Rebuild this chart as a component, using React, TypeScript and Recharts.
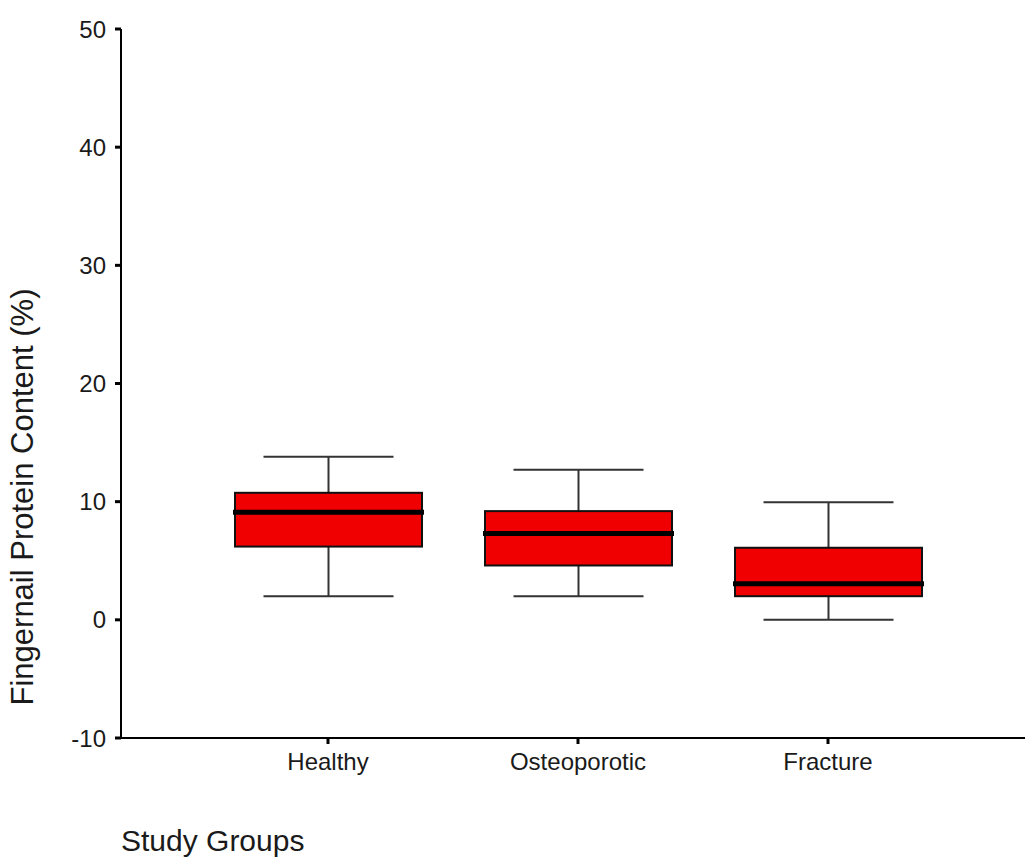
import { ComposedChart, Bar, XAxis, YAxis } from 'recharts';

const groups = ['Healthy', 'Osteoporotic', 'Fracture'];
const minValues = [2.0, 2.0, 0.0];
const q1Values = [6.2, 4.6, 2.0];
const medianValues = [9.1, 7.3, 3.05];
const q3Values = [10.75, 9.2, 6.1];
const maxValues = [13.8, 12.7, 9.95];
const yTicks = [-10, 0, 10, 20, 30, 40, 50];

const data = groups.map((g, i) => ({
  group: g,
  range: [minValues[i], maxValues[i]],
  min: minValues[i],
  q1: q1Values[i],
  median: medianValues[i],
  q3: q3Values[i],
  max: maxValues[i],
}));

const FONT = 'Liberation Sans, Arial, sans-serif';
const INK = '#1a1a1a';

// bar covers [min, max]; inner values are placed on the same scale
const BoxShape = (props: any) => {
  const { x, y, width, height, payload } = props;
  const lo = payload.min;
  const hi = payload.max;
  const py = (v: number) => y + ((hi - v) / (hi - lo)) * height;
  const cx = x + width / 2;
  const capHalf = 65;
  return (
    <g>
      <line x1={cx} x2={cx} y1={py(hi)} y2={py(payload.q3)} stroke="#333" strokeWidth={2} />
      <line x1={cx} x2={cx} y1={py(payload.q1)} y2={py(lo)} stroke="#333" strokeWidth={2} />
      <line x1={cx - capHalf} x2={cx + capHalf} y1={py(hi)} y2={py(hi)} stroke="#333" strokeWidth={2} />
      <line x1={cx - capHalf} x2={cx + capHalf} y1={py(lo)} y2={py(lo)} stroke="#333" strokeWidth={2} />
      <rect
        x={x}
        y={py(payload.q3)}
        width={width}
        height={py(payload.q1) - py(payload.q3)}
        fill="#f00000"
        stroke="#111"
        strokeWidth={2}
      />
      <line x1={x - 2} x2={x + width + 2} y1={py(payload.median)} y2={py(payload.median)} stroke="#000" strokeWidth={5} />
    </g>
  );
};

export default function App() {
  return (
    <div style={{ position: 'absolute', left: 0, top: 0, background: '#fff' }}>
      <ComposedChart width={1025} height={861} data={data} margin={{ top: 29, right: 0, bottom: 73, left: 0 }}>
        <XAxis
          dataKey="group"
          padding={{ left: 82, right: 72 }}
          height={50}
          axisLine={{ stroke: '#000', strokeWidth: 2 }}
          tickLine={{ stroke: '#000', strokeWidth: 3 }}
          tickSize={6}
          tickMargin={9}
          tick={{ fontSize: 24, fill: INK, fontFamily: FONT }}
        />
        <XAxis
          xAxisId="top"
          orientation="top"
          dataKey="group"
          height={0}
          tick={false}
          tickLine={false}
          axisLine={{ stroke: '#000', strokeWidth: 2 }}
        />
        <YAxis
          domain={[-10, 50]}
          ticks={yTicks}
          width={121}
          interval={0}
          axisLine={{ stroke: '#000', strokeWidth: 2 }}
          tickLine={{ stroke: '#000', strokeWidth: 3 }}
          tickSize={6}
          tickMargin={9}
          tick={{ fontSize: 24, fill: INK, fontFamily: FONT }}
        />
        <Bar dataKey="range" barSize={187} shape={BoxShape} isAnimationActive={false} />
        <text
          x={22}
          y={497}
          transform="rotate(-90 22 497)"
          textAnchor="middle"
          dominantBaseline="central"
          fontSize={31}
          fill={INK}
          fontFamily={FONT}
        >
          Fingernail Protein Content (%)
        </text>
        <text x={121} y={851} fontSize={30} fill={INK} fontFamily={FONT}>
          Study Groups
        </text>
      </ComposedChart>
    </div>
  );
}
